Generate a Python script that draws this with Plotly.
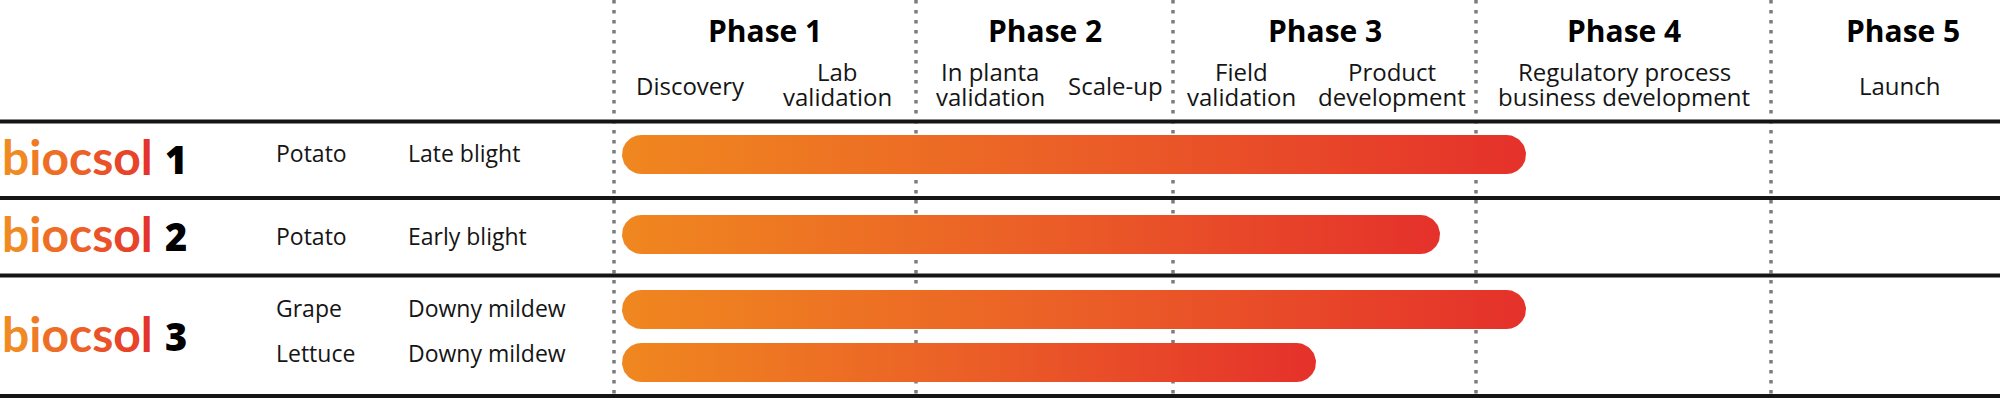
import numpy as np
import plotly.graph_objects as go

# ---------------- data ----------------
phases = ["Phase 1", "Phase 2", "Phase 3", "Phase 4", "Phase 5"]
phase_edges = [614, 916, 1173, 1476, 1771, 2034]          # timeline units
steps = ["Discovery", "Lab<br>validation", "In planta<br>validation", "Scale-up",
         "Field<br>validation", "Product<br>development",
         "Regulatory process<br>business development", "Launch"]
step_pos = [690, 837, 990, 1115, 1241, 1392, 1624, 1900]   # timeline units

products = ["biocsol", "biocsol", "biocsol"]
product_num = ["1", "2", "3"]
crops = ["Potato", "Potato", "Grape", "Lettuce"]
diseases = ["Late blight", "Early blight", "Downy mildew", "Downy mildew"]
bar_start = [622, 622, 622, 622]
bar_end = [1526, 1440, 1526, 1316]

# ---------------- layout constants ----------------
W, H = 2000, 400
row_lines = [121.5, 198, 275.5, 396]
bar_y = [154.5, 234.5, 309.5, 362.5]
bar_h = 39
crop_base = [163, 246, 318, 363]
logo_base = [176, 253, 353]
FONT = "Open Sans"
INK = "#151515"

fig = go.Figure()

# pill-shaped gradient bars
for xs, xe, yc in zip(bar_start, bar_end, bar_y):
    r = bar_h / 2
    t1 = np.linspace(-np.pi / 2, np.pi / 2, 40)
    t2 = np.linspace(np.pi / 2, 3 * np.pi / 2, 40)
    px = np.concatenate([xe - r + r * np.cos(t1), xs + r + r * np.cos(t2)])
    py = np.concatenate([yc + r * np.sin(t1), yc + r * np.sin(t2)])
    px = np.append(px, px[0]); py = np.append(py, py[0])
    fig.add_trace(go.Scatter(
        x=px, y=py, mode="lines", fill="toself", line=dict(width=0),
        fillgradient=dict(type="horizontal",
                          colorscale=[[0, "#F0871F"], [0.5, "#EB5F27"], [1, "#E5312B"]]),
        hoverinfo="skip", showlegend=False))

shapes = []
for xv in phase_edges[:-1]:
    shapes.append(dict(type="line", xref="x", yref="y", x0=xv, x1=xv, y0=0, y1=H,
                       line=dict(color="#7d7d7d", width=3.5, dash="3.5px,6.5px"),
                       layer="below"))
for yv in row_lines:
    shapes.append(dict(type="line", xref="x", yref="y", x0=0, x1=W, y0=yv, y1=yv,
                       line=dict(color=INK, width=4), layer="below"))

ann = []
def txt(x, y_base, s, size, xanchor="center", weight=400, color=INK, family=FONT, k=0.42):
    ann.append(dict(x=x, y=y_base - k * size, xref="x", yref="y", text=s,
                    showarrow=False, xanchor=xanchor, yanchor="middle",
                    font=dict(family=family, size=size, color=color, weight=weight)))

# phase titles
for i, p in enumerate(phases):
    cx = (phase_edges[i] + phase_edges[i + 1]) / 2
    txt(cx, 45, p, 30, weight=700, color="#000000", k=0.5)

# step labels (one line per annotation to match tight leading)
for s, x in zip(steps, step_pos):
    lines = s.split("<br>")
    if len(lines) == 1:
        txt(x, 96, lines[0], 24)
    else:
        txt(x, 82, lines[0], 24)
        txt(x, 107, lines[1], 24)

# logo labels with letter gradient
grad = ["#F08A22", "#EF7C24", "#EE6E26", "#EC6127", "#EA5329", "#E8442A", "#E5342B"]
for name, num, yb in zip(products, product_num, logo_base):
    s = "".join(f'<span style="color:{c}">{ch}</span>' for ch, c in zip(name, grad))
    ann.append(dict(x=0, y=yb - 0.40 * 48, xref="x", yref="y", text=s,
                    showarrow=False, xanchor="left", yanchor="middle",
                    font=dict(family="Lato", size=48, color=grad[3], weight=700)))
    txt(163, yb, num, 38, xanchor="left", weight=800, color="#000000", k=0.44)

for c, d, yb in zip(crops, diseases, crop_base):
    txt(274, yb, c, 23, xanchor="left")
    txt(406, yb, d, 23, xanchor="left")

fig.update_layout(
    width=W, height=H, margin=dict(l=0, r=0, t=0, b=0),
    paper_bgcolor="white", plot_bgcolor="white",
    xaxis=dict(range=[0, W], visible=False, fixedrange=True),
    yaxis=dict(range=[H, 0], visible=False, fixedrange=True),
    shapes=shapes, annotations=ann, showlegend=False,
)

fig.write_html("out.html", config={"displayModeBar": False},
               post_script="document.body.style.margin='0';document.body.style.overflow='hidden';")
